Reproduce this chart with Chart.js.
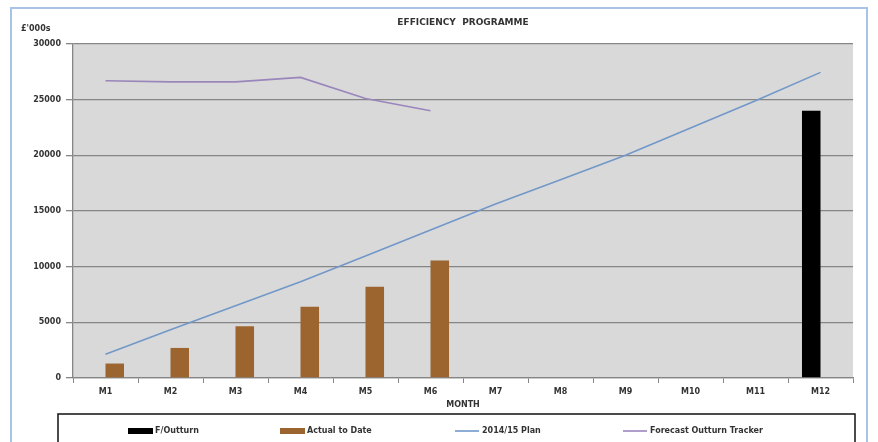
<!DOCTYPE html>
<html>
<head>
<meta charset="utf-8">
<script src="https://cdn.jsdelivr.net/npm/chart.js@4/dist/chart.umd.min.js"></script>
<style>
  html, body { margin: 0; padding: 0; background: #fff; }
  #wrap { position: relative; width: 878px; height: 442px; overflow: hidden; }
</style>
</head>
<body>
<div id="wrap"><canvas id="chart" width="878" height="442"></canvas></div>
<script>
const months = ["M1", "M2", "M3", "M4", "M5", "M6", "M7", "M8", "M9", "M10", "M11", "M12"];
const fOutturn = [null, null, null, null, null, null, null, null, null, null, null, 24000];
const actualToDate = [1300, 2700, 4650, 6400, 8200, 10550, null, null, null, null, null, null];
const plan = [2130, 4340, 6500, 8650, 10950, 13300, 15630, 17800, 20000, 22450, 24900, 27450];
const forecastTracker = [26700, 26600, 26600, 27000, 25100, 24000, null, null, null, null, null, null];

const labelFont = "bold 8px 'DejaVu Sans'";
const textColor = "#333";
const gridColor = "#868686";

// grey plot area, frame, titles and the boxed legend underneath
const decorations = {
  id: "decorations",
  beforeDraw(chart) {
    const { ctx, chartArea: a } = chart;
    ctx.save();
    ctx.fillStyle = "#d9d9d9";
    ctx.fillRect(a.left, a.top, a.right - a.left, a.bottom - a.top);
    ctx.restore();
  },
  afterDraw(chart) {
    const { ctx, chartArea: a } = chart;
    const mid = (a.left + a.right) / 2;
    ctx.save();

    ctx.strokeStyle = "#a9c3e6";
    ctx.lineWidth = 2;
    ctx.strokeRect(11, 8, 856, 460);

    ctx.fillStyle = textColor;
    ctx.textBaseline = "middle";
    ctx.textAlign = "center";
    ctx.font = "bold 9px 'DejaVu Sans'";
    ctx.fillText("EFFICIENCY  PROGRAMME", mid, 23);
    ctx.font = labelFont;
    ctx.fillText("MONTH", mid, 405);
    ctx.textAlign = "left";
    ctx.fillText("£'000s", 21, 29);

    ctx.fillStyle = "#fff";
    ctx.fillRect(58, 414, 797, 40);
    ctx.strokeStyle = "#111";
    ctx.lineWidth = 1.5;
    ctx.strokeRect(58, 414, 797, 40);

    const starts = [128, 280, 455, 623];
    const y = 431;
    chart.data.datasets.forEach((ds, i) => {
      const x = starts[i];
      if (ds.type === "line") {
        ctx.strokeStyle = ds.borderColor;
        ctx.lineWidth = ds.borderWidth;
        ctx.beginPath();
        ctx.moveTo(x, y);
        ctx.lineTo(x + 24, y);
        ctx.stroke();
      } else {
        ctx.fillStyle = ds.backgroundColor;
        ctx.fillRect(x, y - 3, 25, 6);
      }
      ctx.fillStyle = textColor;
      ctx.font = labelFont;
      ctx.fillText(ds.label, x + 27, y);
    });
    ctx.restore();
  }
};

new Chart(document.getElementById("chart"), {
  data: {
    labels: months,
    datasets: [
      { type: "bar", label: "F/Outturn", data: fOutturn, backgroundColor: "#000000",
        barPercentage: 1, categoryPercentage: 0.57, order: 1 },
      { type: "bar", label: "Actual to Date", data: actualToDate, backgroundColor: "#9c642e",
        barPercentage: 1, categoryPercentage: 0.57, order: 1 },
      { type: "line", label: "2014/15 Plan", data: plan, borderColor: "#7198c9",
        borderWidth: 1.6, pointRadius: 0, tension: 0, order: 0 },
      { type: "line", label: "Forecast Outturn Tracker", data: forecastTracker, borderColor: "#9a86bb",
        borderWidth: 1.6, pointRadius: 0, tension: 0, spanGaps: false, order: 0 }
    ]
  },
  options: {
    responsive: false,
    animation: false,
    devicePixelRatio: 1,
    layout: { padding: { left: 0, top: 44, right: 25, bottom: 28 } },
    plugins: {
      legend: { display: false },
      title: { display: false },
      tooltip: { enabled: false }
    },
    scales: {
      x: {
        afterFit: s => { s.height = 36; },
        grid: { offset: true, drawOnChartArea: false, drawTicks: true, tickLength: 5, color: gridColor, lineWidth: 1 },
        border: { display: true, color: gridColor, width: 1.3 },
        ticks: { color: textColor, font: { family: "DejaVu Sans", size: 8, weight: "bold" }, padding: 4, maxRotation: 0 }
      },
      y: {
        min: 0,
        max: 30000,
        afterFit: s => { s.width = 73; },
        grid: { color: gridColor, lineWidth: 1.3, tickLength: 7 },
        border: { display: true, color: gridColor, width: 1.3 },
        ticks: { stepSize: 5000, color: textColor, padding: 5,
          font: { family: "DejaVu Sans", size: 8, weight: "bold" },
          callback: v => String(v) }
      }
    }
  },
  plugins: [decorations]
});
</script>
</body>
</html>
